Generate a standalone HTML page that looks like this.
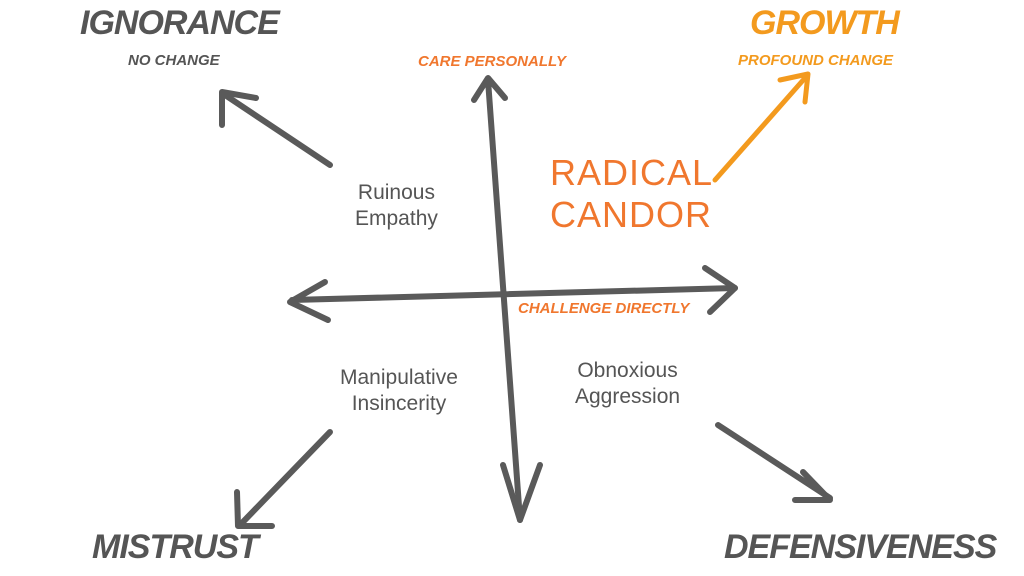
<!DOCTYPE html>
<html><head><style>
body{margin:0;width:1024px;height:576px;background:#fff;overflow:hidden;font-family:"Liberation Sans",sans-serif}
svg{position:absolute;left:0;top:0}
.t{position:absolute;white-space:nowrap}
.big{font-weight:bold;font-style:italic;font-size:34px;color:#555;letter-spacing:-1px}
.sm{font-weight:bold;font-style:italic;font-size:15px;color:#555}
.or{color:#f0772e}
.yo{color:#f39a1e}
.q{font-size:21px;color:#555;text-align:center;line-height:26px}
</style></head><body>
<svg width="1024" height="576">
<g stroke="#5a5a5a" stroke-width="6" fill="none" stroke-linecap="round" stroke-linejoin="round">
<path d="M488 80 L520 520"/><path d="M474 100 L488 78 L505 98"/><path d="M503 465 L520 520 L540 465"/>
<path d="M292 300 L735 288"/><path d="M325 282 L290 302 L328 320"/><path d="M705 268 L735 288 L710 312"/>
<path d="M330 165 L225 95"/><path d="M222 125 L222 92 L256 98"/>
<path d="M330 432 L240 525"/><path d="M237 492 L238 526 L272 526"/>
<path d="M718 425 L830 498"/><path d="M803 472 L830 500 L795 500"/>
</g>
<g stroke="#f39a1e" stroke-width="5" fill="none" stroke-linecap="round" stroke-linejoin="round">
<path d="M715 180 L805 78"/><path d="M780 80 L808 74 L805 102"/>
</g>
</svg>
<div class="t big" style="left:80px;top:4px">IGNORANCE</div>
<div class="t sm" style="left:128px;top:52px">NO CHANGE</div>
<div class="t big yo" style="left:750px;top:4px">GROWTH</div>
<div class="t sm yo" style="left:738px;top:52px">PROFOUND CHANGE</div>
<div class="t sm or" style="left:418px;top:53px">CARE PERSONALLY</div>
<div class="t sm or" style="left:518px;top:300px">CHALLENGE DIRECTLY</div>
<div class="t or" style="left:550px;top:152px;font-size:36px;line-height:42px;text-align:left;letter-spacing:1px">RADICAL<br>CANDOR</div>
<div class="t q" style="left:355px;top:180px">Ruinous<br>Empathy</div>
<div class="t q" style="left:340px;top:365px">Manipulative<br>Insincerity</div>
<div class="t q" style="left:575px;top:358px">Obnoxious<br>Aggression</div>
<div class="t big" style="left:92px;top:528px">MISTRUST</div>
<div class="t big" style="left:724px;top:528px">DEFENSIVENESS</div>
</body></html>
